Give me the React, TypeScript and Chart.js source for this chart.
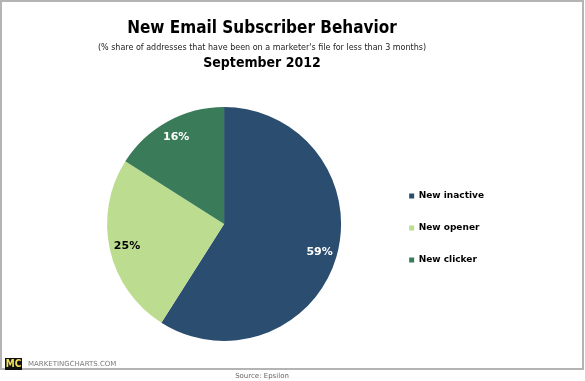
import React, { useEffect, useRef } from "react";
import { Chart, registerables } from "chart.js";

Chart.register(...registerables);

const categories = ["New inactive", "New opener", "New clicker"];
const shares = [59, 25, 16];
const sliceColors = ["#2b4d6f", "#bcdd8f", "#3a7c5a"];
const labelColors = ["#ffffff", "#000000", "#ffffff"];

const titleText = "New Email Subscriber Behavior";
const subtitleText = "(% share of addresses that have been on a marketer's file for less than 3 months)";
const periodText = "September 2012";
const brandText = "MARKETINGCHARTS.COM";
const sourceText = "Source: Epsilon";

const FONT = "'DejaVu Sans', Verdana, sans-serif";
const CFONT = "'DejaVu Sans Condensed', 'DejaVu Sans', sans-serif";

const decorPlugin = {
  id: "decor",
  beforeDraw(chart: any) {
    const ctx = chart.ctx;
    ctx.save();
    ctx.fillStyle = "#ffffff";
    ctx.fillRect(0, 0, chart.width, chart.height);
    // frame
    ctx.strokeStyle = "#b4b4b4";
    ctx.lineWidth = 2;
    ctx.strokeRect(1, 1, 582, 368);
    // header
    const cx = 262;
    ctx.textAlign = "center";
    ctx.textBaseline = "middle";
    ctx.fillStyle = "#000";
    ctx.font = `bold 17px ${CFONT}`;
    ctx.fillText(titleText, cx, 29);
    ctx.font = `8px ${FONT}`;
    ctx.fillStyle = "#222";
    ctx.fillText(subtitleText, cx, 48);
    ctx.fillStyle = "#000";
    ctx.font = `bold 14px ${CFONT}`;
    ctx.fillText(periodText, cx, 63);
    // footer logo
    ctx.fillStyle = "#111";
    ctx.fillRect(5, 358, 17, 12);
    ctx.fillStyle = "#f3e35a";
    ctx.font = `bold 10px ${CFONT}`;
    ctx.textAlign = "center";
    ctx.fillText("MC", 13.5, 364);
    ctx.fillStyle = "#7a7a7a";
    ctx.textAlign = "left";
    ctx.font = `7px ${FONT}`;
    ctx.fillText(brandText, 28, 364);
    ctx.textAlign = "center";
    ctx.fillStyle = "#666";
    ctx.fillText(sourceText, cx, 376);
    ctx.restore();
  },
  afterDatasetsDraw(chart: any) {
    const ctx = chart.ctx;
    const meta = chart.getDatasetMeta(0);
    ctx.save();
    ctx.font = `bold 11px ${FONT}`;
    ctx.textAlign = "center";
    ctx.textBaseline = "middle";
    meta.data.forEach((arc: any, i: number) => {
      const p = arc.getProps(["x", "y", "startAngle", "endAngle", "outerRadius"], true);
      const mid = (p.startAngle + p.endAngle) / 2;
      const r = p.outerRadius * 0.85;
      ctx.fillStyle = labelColors[i];
      ctx.fillText(`${shares[i]}%`, p.x + Math.cos(mid) * r, p.y + Math.sin(mid) * r);
    });
    ctx.restore();
  },
};

export default function App() {
  const ref = useRef<HTMLCanvasElement | null>(null);
  useEffect(() => {
    if (!ref.current) return;
    const chart = new Chart(ref.current, {
      type: "pie",
      data: {
        labels: categories,
        datasets: [
          {
            data: shares,
            backgroundColor: sliceColors,
            borderWidth: 0,
          },
        ],
      },
      options: {
        responsive: false,
        animation: false,
        devicePixelRatio: 1,
        layout: { padding: { top: 107, bottom: 40, left: 62, right: 91 } },
        plugins: {
          title: { display: false },
          tooltip: { enabled: false },
          legend: {
            position: "right",
            title: {
              display: true,
              text: " ",
              padding: 0,
              font: { size: 8, lineHeight: 1 },
            },
            labels: {
              boxWidth: 5,
              boxHeight: 5,
              padding: 23,
              color: "#000",
              font: { family: FONT, size: 9, weight: "bold" },
            },
          },
        },
      },
      plugins: [decorPlugin],
    });
    return () => chart.destroy();
  }, []);
  return (
    <div style={{ position: "absolute", left: 0, top: 0, width: 585, height: 381 }}>
      <canvas ref={ref} width={585} height={381} style={{ width: 585, height: 381 }} />
    </div>
  );
}
